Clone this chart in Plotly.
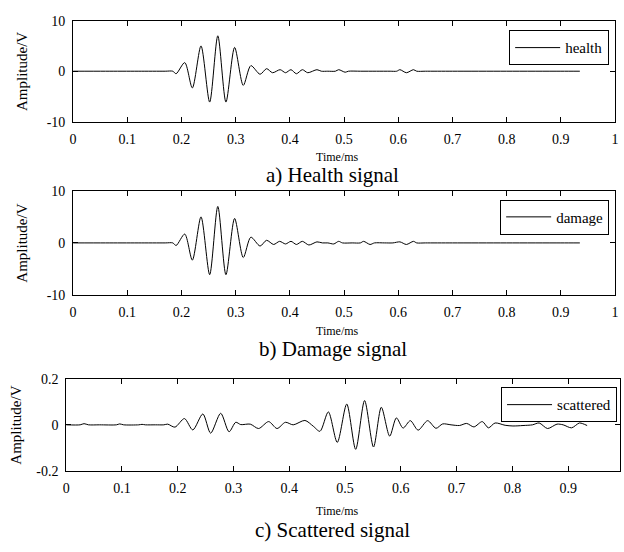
import plotly.graph_objects as go

# ---------------- data ----------------
health_t = [0, 0.06, 0.12, 0.170, 0.184, 0.190, 0.206, 0.220, 0.236, 0.252, 0.267,
            0.282, 0.298, 0.314, 0.328, 0.345, 0.357, 0.368, 0.382, 0.392, 0.402,
            0.412, 0.423, 0.433, 0.450, 0.458, 0.470, 0.484, 0.490, 0.502, 0.508,
            0.530, 0.560, 0.585, 0.597, 0.603, 0.615, 0.628, 0.634, 0.650, 0.700,
            0.800, 0.900, 0.935]
health_v = [0, 0, 0, 0, 0, -0.5, 1.7, -3.3, 5.0, -6.1, 7.0,
            -6.1, 4.7, -2.8, 1.1, -0.6, 0.5, -0.3, 0.3, -0.3, 0.3,
            -0.5, 0.3, -0.3, 0.3, 0, 0, 0, 0.3, -0.2, 0,
            0, 0, 0, 0, 0.3, -0.3, 0.3, 0, 0, 0,
            0, 0, 0]

damage_t = [0, 0.06, 0.12, 0.170, 0.184, 0.190, 0.206, 0.220, 0.236, 0.252, 0.267,
            0.282, 0.298, 0.314, 0.328, 0.345, 0.357, 0.370, 0.381, 0.392, 0.402,
            0.412, 0.423, 0.435, 0.450, 0.460, 0.470, 0.481, 0.490, 0.497, 0.515,
            0.530, 0.536, 0.548, 0.556, 0.575, 0.590, 0.603, 0.615, 0.628, 0.634,
            0.650, 0.700, 0.800, 0.900, 0.935]
damage_v = [0, 0, 0, 0, 0, -0.5, 1.7, -3.3, 5.0, -6.1, 7.0,
            -6.1, 4.7, -2.8, 1.1, -0.6, 0.5, -0.3, 0.3, -0.2, 0.3,
            -0.3, 0.3, -0.4, 0.2, 0, 0, -0.2, 0.3, 0, 0,
            0, 0.3, -0.3, 0, 0, 0, 0.2, -0.3, 0.3, 0,
            0, 0, 0, 0, 0]

scatter_t = [0, 0.025, 0.032, 0.040, 0.060, 0.090, 0.096, 0.103, 0.130, 0.136, 0.142,
             0.160, 0.175, 0.182, 0.195, 0.212, 0.227, 0.245, 0.259, 0.277, 0.292, 0.304,
             0.313, 0.330, 0.345, 0.363, 0.378, 0.393, 0.407, 0.428, 0.443, 0.455,
             0.470, 0.486, 0.503, 0.519, 0.535, 0.551, 0.565, 0.580, 0.592, 0.604,
             0.617, 0.631, 0.648, 0.663, 0.675, 0.690, 0.705, 0.718, 0.731, 0.746,
             0.757, 0.769, 0.787, 0.801, 0.819, 0.836, 0.848, 0.863, 0.880, 0.891,
             0.906, 0.920, 0.926, 0.934]
scatter_v = [0, 0, 0.005, 0, 0, 0, 0.004, 0, 0, 0.002, 0,
             0, 0, 0.003, -0.010, 0.027, -0.022, 0.047, -0.036, 0.050, -0.030, 0.011,
             0.001, 0.003, -0.016, 0.014, -0.016, 0.011, 0.000, 0.019, -0.006, -0.028,
             0.056, -0.076, 0.090, -0.106, 0.105, -0.096, 0.076, -0.049, 0.030, -0.014,
             0.018, -0.023, 0.018, -0.015, 0.004, 0.000, -0.003, 0.006, -0.009, 0.014,
             -0.013, 0.008, -0.002, -0.005, -0.003, 0.000, 0.008, -0.016, 0.003, 0.000,
             -0.013, 0.008, 0.005, -0.003]

x_ticks = [0, 0.1, 0.2, 0.3, 0.4, 0.5, 0.6, 0.7, 0.8, 0.9, 1]
x_ticktext = ["0", "0.1", "0.2", "0.3", "0.4", "0.5", "0.6", "0.7", "0.8", "0.9", "1"]
y_ticks_big = [-10, 0, 10]
y_ticktext_big = ["-10", "0", "10"]
y_ticks_small = [-0.2, 0, 0.2]
y_ticktext_small = ["-0.2", "0", "0.2"]

names = ["health", "damage", "scattered"]
titles = ["a) Health signal", "b) Damage signal", "c) Scattered signal"]

# ---------------- layout helpers ----------------
W, H = 624, 552
FONT = "Liberation Serif, Times New Roman, serif"


def px(x):
    return x / W


def py(y):
    return 1 - y / H


fig = go.Figure()
series = [(health_t, health_v, "x", "y", "legend"),
          (damage_t, damage_v, "x2", "y2", "legend2"),
          (scatter_t, scatter_v, "x3", "y3", "legend3")]
for (tt, vv, xa, ya, lg), nm in zip(series, names):
    fig.add_trace(go.Scatter(x=tt, y=vv, mode="lines", name=nm,
                             line=dict(color="black", width=1, shape="spline", smoothing=0.8),
                             xaxis=xa, yaxis=ya, legend=lg))

panels = [
    # left, right, top, bottom (px)
    (70, 619, 14, 118),
    (70, 619, 189, 296),
    (63, 624, 382, 477),
]

ax_common = dict(showline=True, linecolor="black", linewidth=1, mirror="ticks",
                 ticks="inside", ticklen=5, tickcolor="black", showgrid=False,
                 zeroline=False, tickfont=dict(family=FONT, size=14, color="black"))

layout = dict(width=W, height=H, margin=dict(l=0, r=0, t=0, b=0),
              paper_bgcolor="white", plot_bgcolor="white", showlegend=True)

for i, (l, r, t, b) in enumerate(panels):
    sfx = "" if i == 0 else str(i + 1)
    if i < 2:
        xr = [0, 1]
        yr = [-10, 10]
        yt, ytt = y_ticks_big, y_ticktext_big
    else:
        xr = [0, (r - l) / 565.0]
        yr = [-0.2, 0.2]
        yt, ytt = y_ticks_small, y_ticktext_small
    layout["xaxis" + sfx] = dict(domain=[px(l), px(r)], range=xr, anchor="y" + sfx,
                                tickvals=x_ticks, ticktext=x_ticktext,
                                ticklabelstandoff=4, **ax_common)
    layout["yaxis" + sfx] = dict(domain=[py(b), py(t)], range=yr, anchor="x" + sfx,
                                tickvals=yt, ticktext=ytt, ticklabelstandoff=4,
                                **ax_common)

legend_pos = [(613, 24), (613, 198), (621, 391)]
for i, (lx, ly) in enumerate(legend_pos):
    key = "legend" if i == 0 else "legend" + str(i + 1)
    layout[key] = dict(x=px(lx), y=py(ly), xanchor="right", yanchor="top",
                       xref="paper", yref="paper",
                       bordercolor="black", borderwidth=1, bgcolor="white",
                       font=dict(family=FONT, size=15, color="black"),
                       itemwidth=45)

fig.update_layout(**layout)

ann = []
time_y = [154, 333, 518]
title_y = [173, 352, 538]
amp_x = [18, 18, 12]
for i, (l, r, t, b) in enumerate(panels):
    ann.append(dict(text="Time/ms", x=px(338), y=py(time_y[i]), xref="paper", yref="paper",
                    showarrow=False, font=dict(family=FONT, size=12, color="black"),
                    xanchor="center", yanchor="middle"))
    ann.append(dict(text=titles[i], x=px(333), y=py(title_y[i]), xref="paper", yref="paper",
                    showarrow=False, font=dict(family=FONT, size=21, color="black"),
                    xanchor="center", yanchor="middle"))
    ann.append(dict(text="Amplitude/V", x=px(amp_x[i]), y=py((t + b) / 2), xref="paper",
                    yref="paper", showarrow=False, textangle=-90,
                    font=dict(family=FONT, size=15, color="black"),
                    xanchor="center", yanchor="middle"))
fig.update_layout(annotations=ann)

fig.write_html("out.html")
